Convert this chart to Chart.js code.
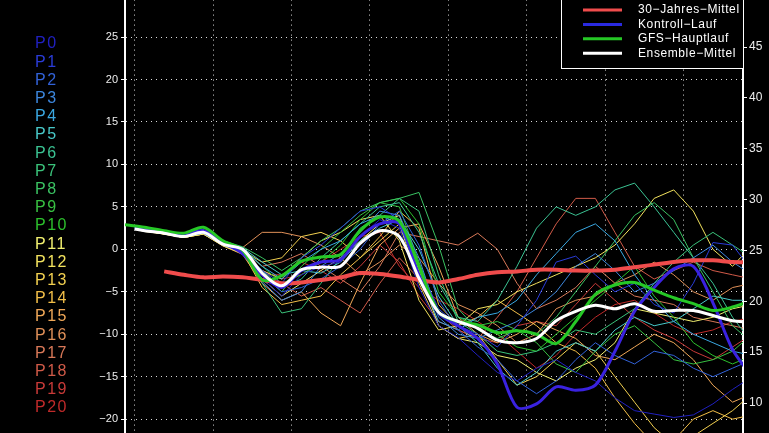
<!DOCTYPE html>
<html lang="de">
<head>
<meta charset="UTF-8">
<title>GFS Ensemble</title>
<script src="https://cdn.jsdelivr.net/npm/chart.js"></script>
<style>
  html, body { margin: 0; padding: 0; background: #000; overflow: hidden; }
  #chart { position: absolute; left: 0; top: -20px; }
</style>
</head>
<body>
<canvas id="chart" width="769" height="500"></canvas>
<script>
// forecast hours, 6-hourly; the members start 3h after the main run
const hours = [0,6,12,18,24,30,36,42,48,54,60,66,72,78,84,90,96,102,108,114,120,126,132,138,144,150,156,162,168,174,180,186,192];
const memberHours = [3,6,12,18,24,30,36,42,48,54,60,66,72,78,84,90,96,102,108,114,120,126,132,138,144,150,156,162,168,174,180,186,192];
const dayTicks = [3,27,51,75,99,123,147,171];
const leftTicks = [-25,-20,-15,-10,-5,0,5,10,15,20,25,30];
const rightTicks = [10,15,20,25,30,35,40,45];

// thick lines
const climate = [null,null,-2.6,-3.0,-3.3,-3.2,-3.3,-3.6,-4.0,-3.9,-3.6,-3.3,-2.8,-2.9,-3.2,-3.6,-3.9,-3.5,-3.0,-2.7,-2.6,-2.4,-2.4,-2.5,-2.5,-2.4,-2.1,-1.8,-1.5,-1.3,-1.3,-1.5,-1.5];
const control = [2.5,2.3,2.0,1.7,2.2,0.8,-0.5,-3.0,-4.5,-2.5,-1.5,-1.2,1.5,3.0,3.0,-3.0,-7.5,-9.0,-10.5,-13.5,-18.6,-18.2,-16.2,-16.6,-16.0,-12.0,-7.3,-4.5,-2.3,-2.0,-6.3,-11.8,-15.0];
const mainRun = [2.9,2.6,2.2,1.9,2.6,1.0,-0.1,-3.6,-3.1,-1.4,-0.9,-0.6,2.2,3.8,3.3,-2.0,-7.4,-8.5,-8.9,-9.8,-9.6,-10.0,-11.1,-8.5,-5.3,-4.2,-3.9,-4.8,-5.7,-6.4,-7.2,-6.8,-6.0];
const ensMean = [2.4,2.2,1.9,1.5,2.0,0.6,0.0,-2.8,-4.3,-2.4,-2.1,-2.0,0.7,2.2,1.5,-3.4,-7.4,-8.5,-9.3,-10.7,-11.0,-10.5,-8.4,-7.3,-6.6,-7.0,-6.4,-7.3,-7.2,-7.2,-7.8,-8.4,-8.6];

// ensemble members P0..P20
const p0 = [2.5,2.3,2.0,1.6,2.0,0.6,-0.4,-3.5,-5.5,-3.0,-2.0,-1.5,1.5,3.5,2.5,-4.5,-9.0,-10.4,-12.5,-14.5,-15.5,-14.0,-13.0,-14.5,-15.5,-17.5,-19.0,-19.4,-19.8,-19.5,-18.2,-16.5,-15.0];
const p1 = [2.6,2.4,2.1,1.8,2.2,0.9,-0.2,-2.5,-4.0,-1.0,0.5,2.5,4.5,5.0,3.5,-2.0,-7.0,-9.0,-10.0,-11.5,-9.0,-6.0,-1.5,-0.8,-3.0,-5.0,-4.0,-6.5,-7.5,-4.0,0.8,0.5,-2.5];
const p2 = [2.5,2.2,1.9,1.6,2.0,0.7,-0.1,-3.0,-5.0,-4.5,-3.5,-2.0,0.0,3.0,4.5,0.5,-6.0,-9.5,-11.5,-13.0,-15.5,-17.0,-15.5,-13.0,-11.0,-12.5,-13.5,-12.0,-12.5,-14.0,-15.0,-14.0,-13.0];
const p3 = [2.4,2.2,1.9,1.5,1.9,0.5,-0.3,-3.8,-6.0,-5.0,-2.0,-0.5,2.0,4.5,4.0,-1.0,-8.0,-10.0,-10.5,-9.5,-8.5,-7.0,-5.0,-2.0,-0.5,-2.5,-5.0,-4.0,-2.5,-1.0,0.5,-1.5,-3.0];
const p4 = [2.5,2.3,2.0,1.7,2.1,0.8,0.1,-2.0,-3.5,-1.5,0.0,1.0,3.0,4.0,3.0,-3.0,-8.5,-9.5,-8.0,-7.5,-6.0,-3.0,-0.5,2.0,3.0,1.0,-3.0,-6.0,-8.5,-10.0,-11.0,-12.0,-12.5];
const p5 = [2.6,2.4,2.0,1.7,2.2,0.9,0.2,-1.5,-3.0,-2.5,-2.8,-1.5,1.0,2.5,3.5,0.0,-5.5,-9.0,-11.0,-14.0,-16.0,-14.5,-12.0,-11.0,-12.0,-9.5,-8.0,-9.0,-8.5,-7.0,-5.5,-6.0,-6.0];
const p6 = [2.5,2.3,2.0,1.7,2.1,0.8,0.0,-2.5,-4.5,-3.5,-1.0,1.0,3.0,5.0,5.5,2.0,-4.0,-8.0,-8.5,-6.0,-2.0,2.5,5.0,4.0,5.0,7.0,7.8,5.0,2.0,-1.0,-4.0,-8.0,-11.0];
const p7 = [2.5,2.3,2.0,1.6,2.0,0.7,-0.2,-4.0,-7.5,-7.0,-4.0,-1.0,2.5,4.0,6.0,4.5,-3.0,-8.5,-10.0,-12.0,-12.5,-12.0,-11.0,-9.5,-10.0,-8.5,-7.0,-4.0,-1.5,0.5,2.0,0.5,-1.0];
const p8 = [2.6,2.4,2.1,1.8,2.3,1.0,0.3,-1.0,-2.5,-1.0,1.0,2.5,4.5,5.5,6.0,6.7,0.5,-7.0,-9.5,-10.5,-9.5,-10.0,-8.0,-5.0,-2.0,1.0,4.0,5.5,3.5,-1.0,-5.0,-9.0,-11.0];
const p9 = [2.5,2.3,2.0,1.7,2.2,0.9,0.1,-3.0,-5.0,-2.0,0.0,2.0,4.0,5.5,5.0,-1.5,-7.5,-8.5,-9.0,-8.5,-9.5,-11.0,-13.5,-14.5,-12.0,-10.0,-9.0,-11.0,-13.0,-13.5,-13.0,-12.0,-10.0];
const p10 = [2.6,2.4,2.1,1.8,2.3,1.0,0.2,-2.0,-4.0,-3.0,-1.5,0.5,3.5,5.5,6.0,3.0,-5.0,-8.0,-9.0,-10.0,-11.5,-12.0,-10.0,-8.0,-6.0,-4.0,-2.0,-5.5,-8.0,-11.0,-12.5,-13.5,-12.5];
const p11 = [2.4,2.2,1.8,1.4,1.8,0.5,-0.4,-3.5,-5.5,-4.0,-2.5,-1.0,1.0,3.0,4.0,-2.5,-9.0,-10.5,-11.0,-12.5,-13.0,-14.5,-15.5,-14.0,-13.0,-11.0,-7.0,-7.5,-8.0,-8.5,-8.0,-7.0,-6.5];
const p12 = [2.4,2.1,1.8,1.4,1.8,0.4,-0.5,-2.5,-3.5,-1.0,1.0,2.0,3.5,4.0,1.0,-6.0,-9.5,-9.0,-7.0,-6.5,-5.0,-4.0,-3.0,-2.0,-1.0,0.5,3.0,6.0,7.0,4.5,0.0,-2.0,0.5];
const p13 = [2.5,2.2,1.8,1.5,1.9,0.6,-0.2,-1.5,-1.0,1.5,2.0,1.0,-1.0,1.0,3.0,-4.0,-9.0,-10.5,-10.0,-13.0,-16.0,-15.0,-13.0,-11.0,-12.0,-15.0,-18.0,-21.0,-23.0,-22.0,-20.5,-19.0,-17.0];
const p14 = [2.5,2.2,1.9,1.5,1.9,0.6,-0.3,-4.5,-6.5,-6.0,-5.5,-3.0,-1.0,1.5,4.5,2.5,-6.5,-9.0,-8.0,-6.0,-7.5,-9.0,-11.0,-12.0,-14.0,-17.5,-20.5,-23.0,-22.5,-20.0,-19.0,-20.0,-19.5];
const p15 = [2.4,2.2,1.8,1.4,1.8,0.4,-0.6,-4.0,-6.0,-5.0,-7.5,-9.0,-4.0,0.5,2.5,3.0,-2.0,-8.0,-10.0,-11.0,-10.0,-8.5,-9.5,-10.5,-12.5,-13.0,-11.5,-10.0,-11.0,-13.0,-16.0,-18.0,-17.0];
const p16 = [2.5,2.3,1.9,1.5,1.9,0.6,0.2,2.0,2.0,1.5,0.5,-1.0,-3.0,-1.5,0.5,-1.0,-4.0,-6.5,-7.5,-9.0,-11.0,-10.0,-7.0,-6.0,-5.5,-4.0,-3.0,-1.5,-3.0,-5.0,-6.0,-4.5,-4.0];
const p17 = [2.5,2.2,1.9,1.5,2.0,0.7,-0.1,-2.0,-1.5,-0.5,-2.0,-3.5,-5.0,-2.0,2.0,1.5,1.0,0.5,1.9,0.0,-4.0,-7.0,-6.0,-4.5,-2.0,-4.0,-5.5,-6.0,-6.5,-8.0,-8.5,-9.0,-9.5];
const p18 = [2.5,2.3,1.9,1.6,2.0,0.7,-0.2,-3.5,-4.0,-5.5,-4.5,-6.0,-7.5,-4.0,-1.0,-3.5,-7.5,-9.5,-10.5,-8.0,-5.0,-1.0,3.0,6.0,6.0,2.0,-2.0,-3.5,-2.5,-1.5,-2.5,-3.0,-3.5];
const p19 = [2.5,2.2,1.8,1.4,1.8,0.5,-0.4,-3.0,-3.0,-1.5,-2.5,-4.0,-2.0,0.5,-1.5,-5.5,-8.5,-9.5,-10.5,-11.0,-9.0,-8.5,-9.0,-6.5,-4.0,-6.0,-8.0,-9.5,-10.5,-12.0,-13.0,-11.5,-10.0];
const p20 = [2.5,2.3,2.0,1.6,2.0,0.7,0.0,-2.5,-3.5,-3.0,-1.5,0.0,1.5,2.0,-2.0,-4.5,-6.0,-7.0,-8.5,-10.0,-12.0,-14.0,-12.5,-10.0,-8.0,-6.5,-6.0,-7.5,-9.0,-10.0,-9.5,-8.5,-8.0];

const members = [p0,p1,p2,p3,p4,p5,p6,p7,p8,p9,p10,p11,p12,p13,p14,p15,p16,p17,p18,p19,p20];
const memberNames = ['P0','P1','P2','P3','P4','P5','P6','P7','P8','P9','P10','P11','P12','P13','P14','P15','P16','P17','P18','P19','P20'];
const memberColors = ['#2020c0','#2a3cd8','#3262d8','#3c86dc','#3aa8e2','#48c8c8','#3ac292','#3ac27a','#3ac262','#38c042','#2cc02c','#f2f070','#f2e25e','#f2d050','#f2be48','#f0a858','#e09058','#d87858','#d05a48','#c83a38','#c02a2a'];

const legendLabels = ['30\u2212Jahres\u2212Mittel','Kontroll\u2212Lauf','GFS\u2212Hauptlauf','Ensemble\u2212Mittel'];
const legendColors = ['#f04c4c','#2a2ae0','#26c826','#ffffff'];

const pts = (xs, ys) => ys.map((v, i) => ({ x: xs[i], y: v }));

const datasets = [];
datasets.push({ label: legendLabels[3], data: pts(memberHours, ensMean), borderColor: legendColors[3], borderWidth: 3, tension: 0.3, order: 0 });
datasets.push({ label: legendLabels[2], data: pts(hours, mainRun), borderColor: legendColors[2], borderWidth: 3, tension: 0.3, order: 1 });
datasets.push({ label: legendLabels[1], data: pts(memberHours, control), borderColor: '#3a22e0', borderWidth: 3, tension: 0.3, order: 2 });
datasets.push({ label: legendLabels[0], data: pts(hours, climate), borderColor: legendColors[0], borderWidth: 4, tension: 0.3, order: 3 });
members.forEach((m, i) => {
    datasets.push({ label: memberNames[i], data: pts(memberHours, m), borderColor: memberColors[i], borderWidth: 1, tension: 0, order: 10 });
});

// member names on the left and legend box top right
const overlay = {
    id: 'overlay',
    afterDraw(chart) {
        const ctx = chart.ctx;
        const a = chart.chartArea;
        ctx.save();
        ctx.font = '16px "Liberation Sans", Arial, sans-serif';
        ctx.letterSpacing = '1.5px';
        ctx.textBaseline = 'middle';
        memberNames.forEach((n, i) => {
            ctx.fillStyle = memberColors[i];
            ctx.fillText(n, 35, 64 + i * 18.2);
        });

        const bx = a.right - 182, bw = 182, bh = 88;
        ctx.fillStyle = '#000';
        ctx.fillRect(bx, 0, bw, bh);
        ctx.strokeStyle = '#fff';
        ctx.lineWidth = 1;
        ctx.strokeRect(bx + 0.5, -1, bw, bh + 1.5);
        ctx.font = '12px "Liberation Sans", Arial, sans-serif';
        ctx.letterSpacing = '0.6px';
        legendLabels.forEach((t, i) => {
            const y = 30 + i * 14.4;
            ctx.strokeStyle = legendColors[i];
            ctx.lineWidth = 3;
            ctx.beginPath();
            ctx.moveTo(bx + 22, y);
            ctx.lineTo(bx + 61, y);
            ctx.stroke();
            ctx.fillStyle = '#fff';
            ctx.fillText(t, bx + 77, y);
        });
        ctx.restore();
    }
};

new Chart(document.getElementById('chart').getContext('2d'), {
    type: 'line',
    data: { datasets: datasets },
    options: {
        responsive: false,
        animation: false,
        events: [],
        layout: { padding: { top: 14.6, bottom: 18.4, left: 0, right: 0 } },
        elements: { point: { radius: 0 }, line: { borderJoinStyle: 'round' } },
        plugins: { legend: { display: false }, tooltip: { enabled: false } },
        scales: {
            x: {
                type: 'linear', min: 0, max: 189.2,
                afterBuildTicks: s => { s.ticks = dayTicks.map(v => ({ value: v })); },
                ticks: { display: false },
                grid: { color: '#d8d8d8', drawTicks: false },
                border: { display: false, dash: [1, 4] }
            },
            y: {
                position: 'left', min: -25, max: 30,
                afterBuildTicks: s => { s.ticks = leftTicks.map(v => ({ value: v })); },
                ticks: {
                    color: '#ececec', padding: 3,
                    font: { family: '"Liberation Sans", Arial, sans-serif', size: 11 },
                    callback: v => String(v).replace('-', '\u2212')
                },
                grid: { color: '#d8d8d8', tickLength: 4, tickColor: '#ffffff', tickBorderDash: [] },
                border: { color: '#ffffff', width: 2, dash: [1, 4] },
                afterFit: s => { s.width = 125; }
            },
            y2: {
                position: 'right', min: 4.24, max: 50.16,
                afterBuildTicks: s => { s.ticks = rightTicks.map(v => ({ value: v })); },
                ticks: {
                    color: '#ececec', padding: 2,
                    font: { family: '"Liberation Sans", Arial, sans-serif', size: 12 }
                },
                grid: { drawOnChartArea: false, tickLength: 4, tickColor: '#ffffff' },
                border: { color: '#ffffff', width: 2 },
                afterFit: s => { s.width = 26; }
            }
        }
    },
    plugins: [overlay]
});
</script>
</body>
</html>
